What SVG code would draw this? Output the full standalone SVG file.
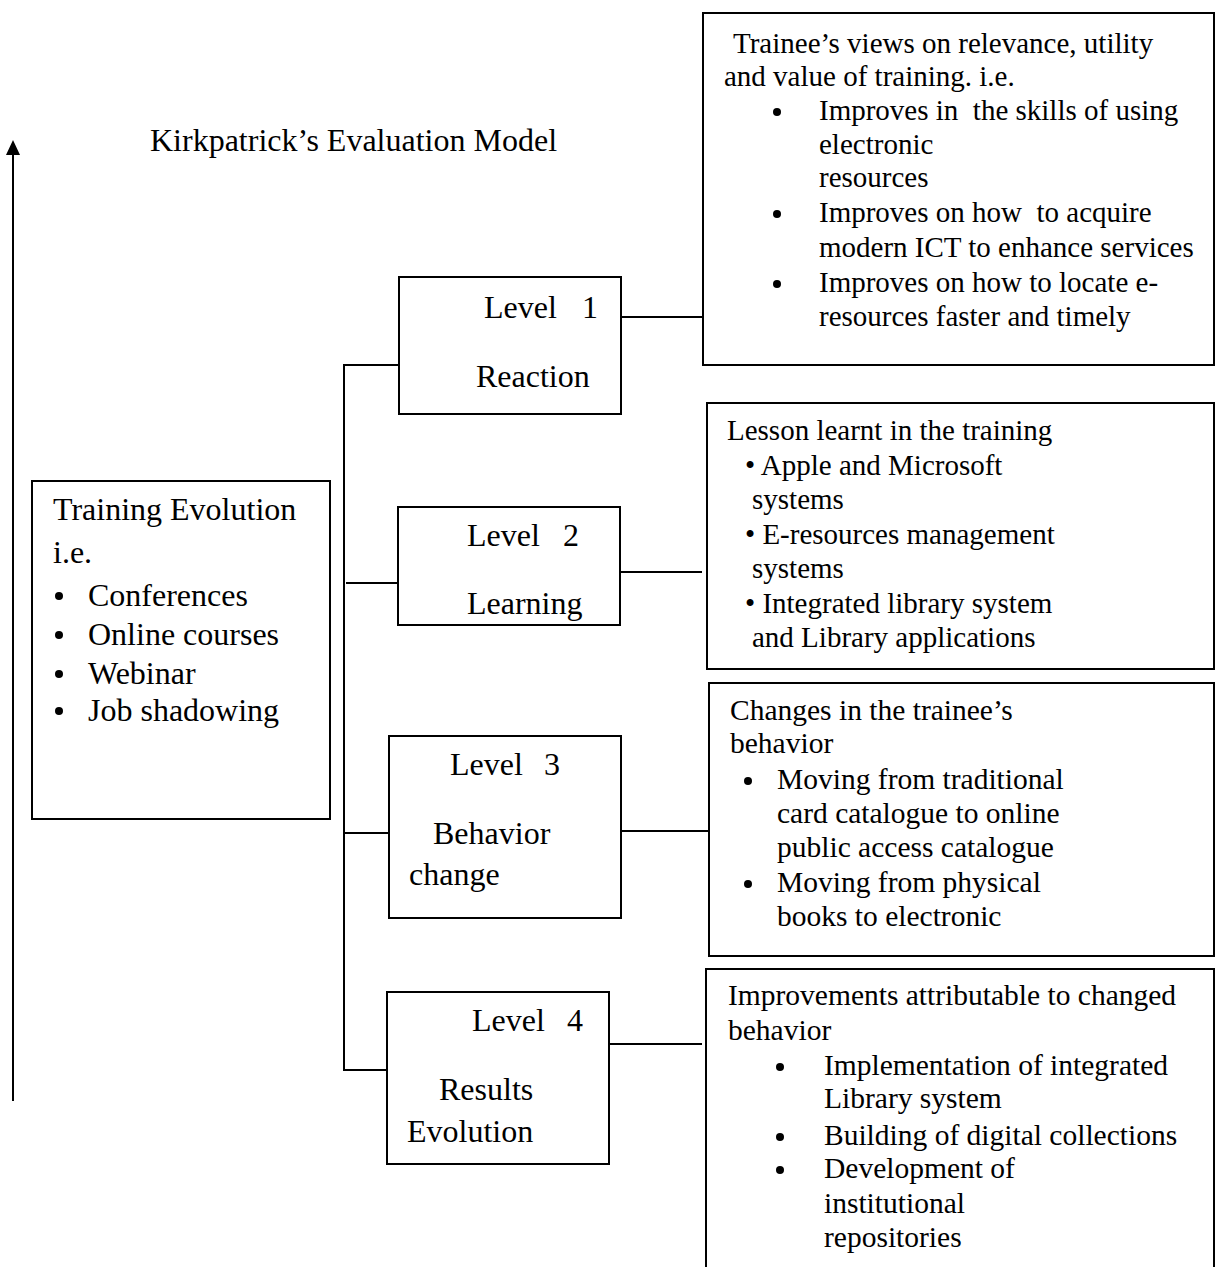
<svg xmlns="http://www.w3.org/2000/svg" width="1215" height="1267" viewBox="0 0 1215 1267">
<style>
text{font-family:"Liberation Serif","Times New Roman",serif;font-size:29px;fill:#000}
.big text,text.big{font-size:32px}
.mid text{font-size:29.5px}
.box{fill:#fff;stroke:#000;stroke-width:2}
.ln{fill:none;stroke:#000;stroke-width:2}
.dot{fill:#000}
</style>
<rect width="1215" height="1267" fill="#fff"/>
<g id="axis">
<line class="ln" x1="13" y1="1101" x2="13" y2="152"/>
<polygon points="13,140 6,155 20,155" fill="#000"/>
</g>
<g id="title"><text class="big" x="150" y="151">Kirkpatrick’s Evaluation Model</text></g>
<g id="connectors">
<polyline class="ln" points="399,365 344,365 344,1070 387,1070"/>
<line class="ln" x1="346" y1="583" x2="398" y2="583"/>
<line class="ln" x1="344" y1="833" x2="398" y2="833"/>
<line class="ln" x1="621" y1="317" x2="711" y2="317"/>
<line class="ln" x1="620" y1="572" x2="702" y2="572"/>
<line class="ln" x1="621" y1="831" x2="710" y2="831"/>
<line class="ln" x1="609" y1="1044" x2="702" y2="1044"/>
</g>
<g id="training" class="big">
<rect class="box" x="32" y="481" width="298" height="338"/>
<text x="53" y="520">Training Evolution</text>
<text x="53" y="563">i.e.</text>
<circle class="dot" cx="59" cy="596" r="4"/><text x="88" y="606">Conferences</text>
<circle class="dot" cx="59" cy="635" r="4"/><text x="88" y="645">Online courses</text>
<circle class="dot" cx="59" cy="674" r="4"/><text x="88" y="684">Webinar</text>
<circle class="dot" cx="59" cy="711" r="4"/><text x="88" y="721">Job shadowing</text>
</g>
<g id="level1" class="big">
<rect class="box" x="399" y="277" width="222" height="137"/>
<text x="484" y="318">Level</text><text x="582" y="318">1</text>
<text x="476" y="387">Reaction</text>
</g>
<g id="level2" class="big">
<rect class="box" x="398" y="507" width="222" height="118"/>
<text x="467" y="546">Level</text><text x="563" y="546">2</text>
<text x="467" y="614">Learning</text>
</g>
<g id="level3" class="big">
<rect class="box" x="389" y="736" width="232" height="182"/>
<text x="450" y="775">Level</text><text x="544" y="775">3</text>
<text x="433" y="844">Behavior</text>
<text x="409" y="885">change</text>
</g>
<g id="level4" class="big">
<rect class="box" x="387" y="992" width="222" height="172"/>
<text x="472" y="1031">Level</text><text x="567" y="1031">4</text>
<text x="439" y="1100">Results</text>
<text x="407" y="1142">Evolution</text>
</g>
<g id="reaction-detail">
<rect class="box" x="703" y="13" width="511" height="352"/>
<text x="733" y="53">Trainee’s views on relevance, utility</text>
<text x="724" y="86">and value of training. i.e.</text>
<circle class="dot" cx="777" cy="112" r="4"/><text x="819" y="120" xml:space="preserve">Improves in  the skills of using</text>
<text x="819" y="154">electronic</text>
<text x="819" y="187">resources</text>
<circle class="dot" cx="777" cy="214" r="4"/><text x="819" y="222" xml:space="preserve">Improves on how  to acquire</text>
<text x="819" y="257">modern ICT to enhance services</text>
<circle class="dot" cx="777" cy="284" r="4"/><text x="819" y="292">Improves on how to locate e-</text>
<text x="819" y="326">resources faster and timely</text>
</g>
<g id="learning-detail">
<rect class="box" x="707" y="403" width="507" height="266"/>
<text x="727" y="440">Lesson learnt in the training</text>
<text x="745" y="475">• Apple and Microsoft</text>
<text x="752" y="509">systems</text>
<text x="745" y="544">• E-resources management</text>
<text x="752" y="578">systems</text>
<text x="745" y="613">• Integrated library system</text>
<text x="752" y="647">and Library applications</text>
</g>
<g id="behavior-detail" class="mid">
<rect class="box" x="709" y="683" width="505" height="273"/>
<text x="730" y="720">Changes in the trainee’s</text>
<text x="730" y="753">behavior</text>
<circle class="dot" cx="748" cy="781" r="4"/><text x="777" y="789">Moving from traditional</text>
<text x="777" y="823">card catalogue to online</text>
<text x="777" y="857">public access catalogue</text>
<circle class="dot" cx="748" cy="884" r="4"/><text x="777" y="892">Moving from physical</text>
<text x="777" y="926">books to electronic</text>
</g>
<g id="results-detail" class="mid">
<path class="ln" d="M706,1280 V969 H1214 V1280"/>
<text x="728" y="1005">Improvements attributable to changed</text>
<text x="728" y="1040">behavior</text>
<circle class="dot" cx="780" cy="1067" r="4"/><text x="824" y="1075">Implementation of integrated</text>
<text x="824" y="1108">Library system</text>
<circle class="dot" cx="780" cy="1137" r="4"/><text x="824" y="1145">Building of digital collections</text>
<circle class="dot" cx="780" cy="1170" r="4"/><text x="824" y="1178">Development of</text>
<text x="824" y="1213">institutional</text>
<text x="824" y="1247">repositories</text>
</g>
</svg>
